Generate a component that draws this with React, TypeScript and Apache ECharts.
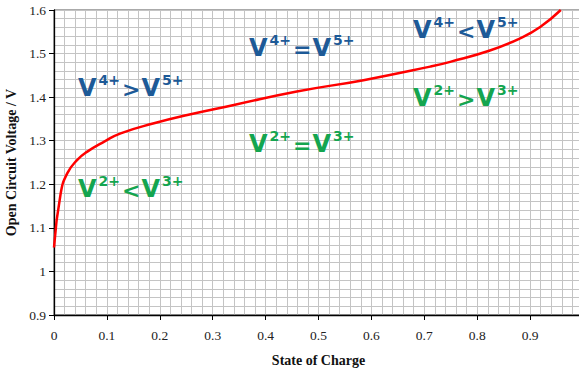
import React, { useEffect, useRef } from "react";
import * as echarts from "echarts";

const soc = [0, 0.0126, 0.025, 0.044, 0.063, 0.095, 0.126, 0.189, 0.252, 0.34, 0.459, 0.585, 0.711, 0.749, 0.824, 0.881, 0.919, 0.958];
const ocv = [1.055, 1.179, 1.225, 1.256, 1.275, 1.298, 1.317, 1.34, 1.359, 1.382, 1.413, 1.439, 1.47, 1.481, 1.507, 1.535, 1.561, 1.6];

const regionLabels = [
  { a: "4", op: ">", b: "5", color: "blue" },
  { a: "4", op: "=", b: "5", color: "blue" },
  { a: "4", op: "<", b: "5", color: "blue" },
  { a: "2", op: ">", b: "3", color: "green" },
  { a: "2", op: "=", b: "3", color: "green" },
  { a: "2", op: "<", b: "3", color: "green" },
];
const labelPos = [
  [78, 78],
  [249, 38],
  [413, 20],
  [413, 88],
  [249, 134],
  [78, 179],
];

const BLUE = "#1d5a97";
const GREEN = "#14a54f";

function makeRich(fill: string) {
  return {
    v: { fontFamily: "DejaVu Sans", fontWeight: "bold", fontSize: 24, lineHeight: 28, fill, verticalAlign: "bottom" },
    s: { fontFamily: "DejaVu Sans", fontWeight: "bold", fontSize: 14, lineHeight: 28, fill, verticalAlign: "top", padding: [1, 1, 0, 2] },
    o: { fontFamily: "DejaVu Sans", fontWeight: "bold", fontSize: 22, lineHeight: 28, fill, verticalAlign: "bottom", padding: [0, 1, 0, 1] },
  };
}

const SERIF = "Liberation Serif";

export default function App() {
  const ref = useRef<HTMLDivElement>(null);
  useEffect(() => {
    if (!ref.current) return;
    const chart = echarts.init(ref.current, undefined, { renderer: "svg" });
    const data = soc.map((s, i) => [s, ocv[i]]);
    const gridColor = "#c4c4c4";
    chart.setOption({
      animation: false,
      backgroundColor: "#ffffff",
      textStyle: { fontFamily: SERIF },
      grid: {
        left: 54,
        top: 10,
        right: -4,
        bottom: 57,
        containLabel: false,
        outerBoundsMode: "none",
        show: true,
        backgroundColor: "#ffffff",
        borderColor: "#555555",
        borderWidth: 1,
      },
      xAxis: {
        type: "value",
        min: 0,
        max: 1,
        interval: 0.1,
        name: "State of Charge",
        nameLocation: "middle",
        nameGap: 38,
        nameTextStyle: { fontFamily: SERIF, fontWeight: "bold", fontSize: 14, color: "#111" },
        axisLine: { show: true, lineStyle: { color: "#000", width: 1.3 } },
        axisTick: { show: true, length: 5, lineStyle: { color: "#000" } },
        axisLabel: { fontFamily: SERIF, fontSize: 13.5, color: "#222", margin: 13, fontWeight: "normal" },
        splitLine: { show: true, lineStyle: { color: gridColor, width: 1 } },
        minorTick: { show: false, splitNumber: 5 },
        minorSplitLine: { show: true, lineStyle: { color: gridColor, width: 1 } },
      },
      yAxis: {
        type: "value",
        min: 0.9,
        max: 1.6,
        interval: 0.1,
        name: "Open Circuit Voltage / V",
        nameLocation: "middle",
        nameGap: 36,
        nameTextStyle: { fontFamily: SERIF, fontWeight: "bold", fontSize: 14, color: "#111" },
        axisLine: { show: true, lineStyle: { color: "#000", width: 1.3 } },
        axisTick: { show: true, length: 5, lineStyle: { color: "#000" } },
        axisLabel: { fontFamily: SERIF, fontSize: 13.5, color: "#222", margin: 8, fontWeight: "normal" },
        splitLine: { show: true, lineStyle: { color: gridColor, width: 1 } },
        minorTick: { show: false, splitNumber: 5 },
        minorSplitLine: { show: true, lineStyle: { color: gridColor, width: 1 } },
      },
      series: [
        {
          type: "line",
          data,
          showSymbol: false,
          smooth: 0.5,
          clip: true,
          lineStyle: { color: "#ff0000", width: 2.5 },
          z: 5,
        },
      ],
      graphic: regionLabels.map((l, i) => ({
        type: "text",
        x: labelPos[i][0],
        y: labelPos[i][1] - 6,
        z: 10,
        style: {
          text: `{v|V}{s|${l.a}+}{o|${l.op}}{v|V}{s|${l.b}+}`,
          rich: makeRich(l.color === "blue" ? BLUE : GREEN),
          fill: l.color === "blue" ? BLUE : GREEN,
        },
      })),
    });
    return () => chart.dispose();
  }, []);
  return (
    <div
      ref={ref}
      style={{ position: "fixed", left: 0, top: 0, width: 579, height: 372 }}
    />
  );
}
